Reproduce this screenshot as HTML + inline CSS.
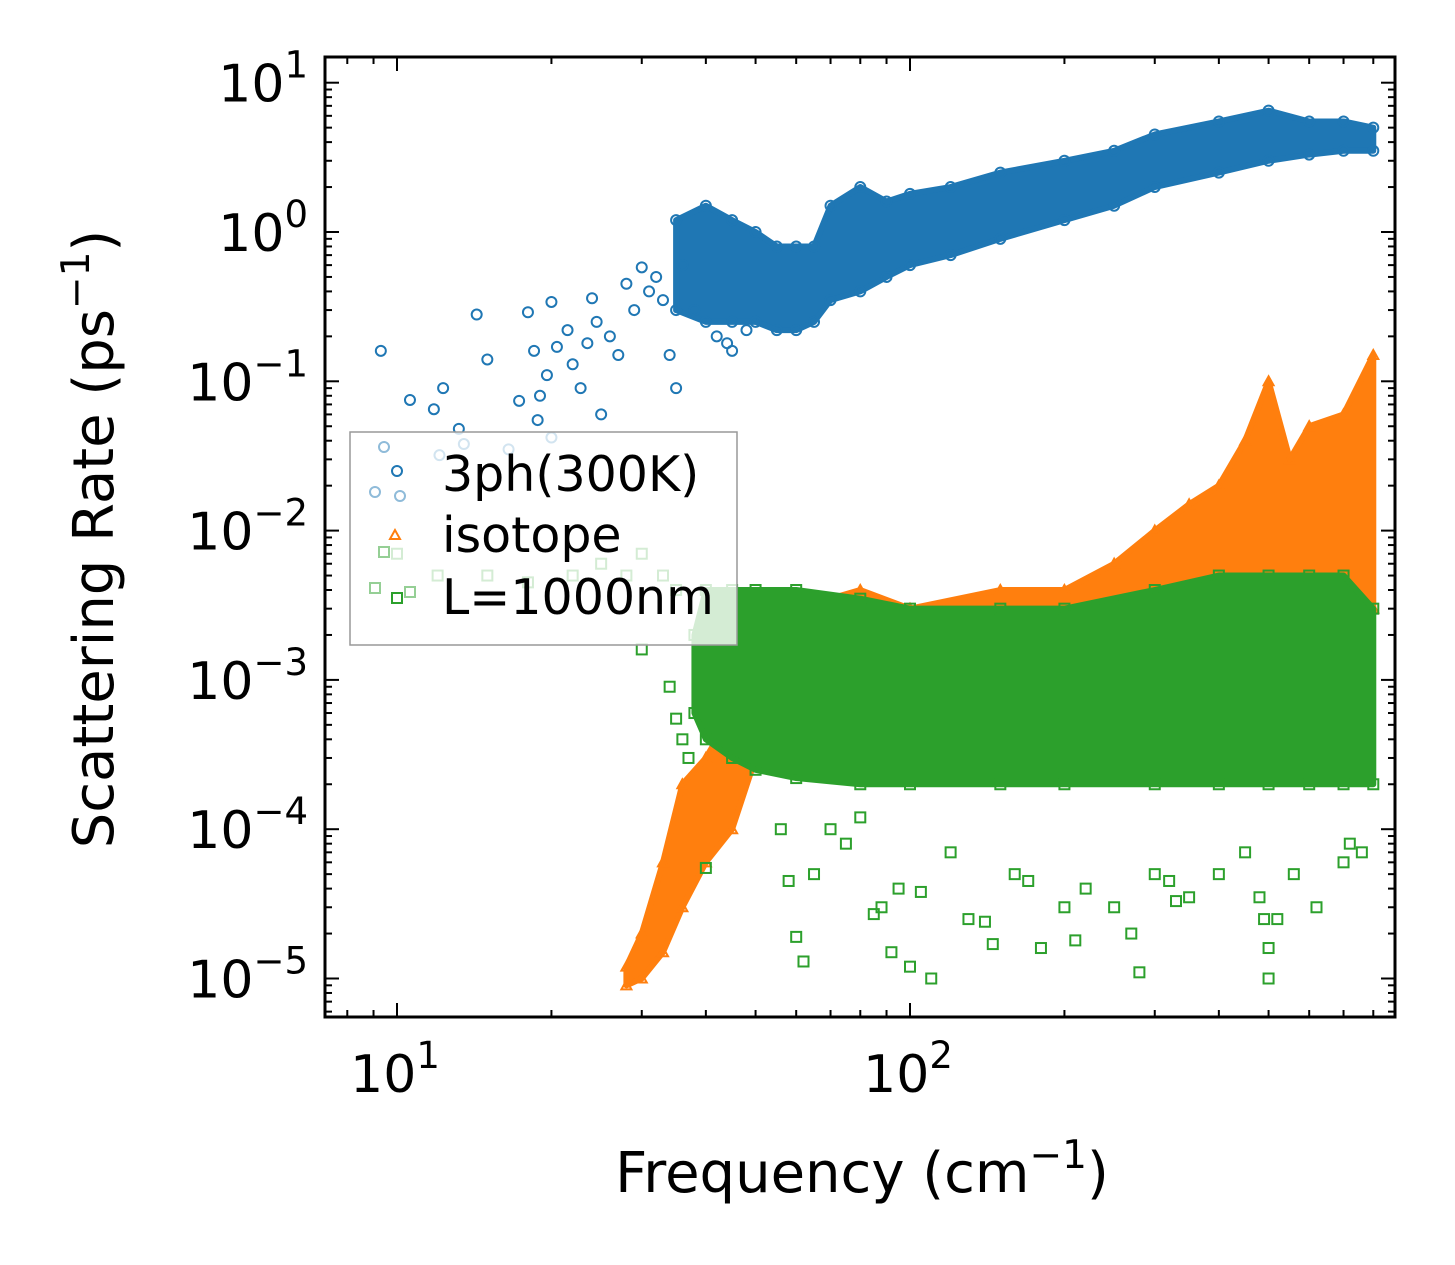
<!DOCTYPE html>
<html><head><meta charset="utf-8"><style>
html,body{margin:0;padding:0;background:#fff;}
svg{display:block;font-family:"DejaVu Sans","Liberation Sans",sans-serif;}
</style></head><body>
<svg id="chart" width="1455" height="1265" viewBox="0 0 1455 1265" xmlns="http://www.w3.org/2000/svg">
<defs><clipPath id="clip"><rect x="325" y="57" width="1070" height="960"/></clipPath></defs>
<rect x="0" y="0" width="1455" height="1265" fill="#fff"/>
<g id="plot" clip-path="url(#clip)"></g>
<g id="axes"></g>
<g id="legend"></g>
</svg>
<script>
// ---- data ----
const blueFreq = [35,40,45,50,55,60,65,70,80,90,100,120,150,200,250,300,400,500,600,700,800];
const blueUpper = [1.2,1.5,1.2,1.0,0.8,0.8,0.8,1.5,2.0,1.6,1.8,2.0,2.5,3.0,3.5,4.5,5.5,6.5,5.5,5.5,5];
const blueLower = [0.3,0.25,0.25,0.25,0.22,0.22,0.25,0.35,0.4,0.5,0.6,0.7,0.9,1.2,1.5,2.0,2.5,3.0,3.3,3.5,3.5];
const blueX = [9.3,10.6,11.8,12.3,13.2,14.3,15.0,17.3,18.0,18.5,19,19.6,20,20.5,21.5,22,22.8,23.5,24,24.5,25,26,27,28,29,30,31,32,33,34,35,36,38,42,44,45,48,20,18.8,16.5,13.5,12.1];
const blueY = [0.16,0.075,0.065,0.09,0.048,0.28,0.14,0.074,0.29,0.16,0.08,0.11,0.34,0.17,0.22,0.13,0.09,0.18,0.36,0.25,0.06,0.2,0.15,0.45,0.3,0.58,0.4,0.5,0.35,0.15,0.09,0.6,0.3,0.2,0.18,0.16,0.22,0.042,0.055,0.035,0.038,0.032];

const orangeFreq = [28,30,33,36,40,45,50,60,80,100,150,200,250,300,350,400,450,500,550,600,700,800];
const orangeUpper = [1.2e-5,2e-5,6e-5,2e-4,3e-4,6e-4,1.5e-3,3e-3,4e-3,3e-3,4e-3,4e-3,6e-3,1e-2,1.5e-2,2e-2,4e-2,0.1,0.03,0.05,0.06,0.15];
const orangeLower = [9e-6,1e-5,1.5e-5,3e-5,6e-5,1e-4,3e-4,5e-4,5e-4,5e-4,5e-4,5e-4,6e-4,8e-4,1e-3,1e-3,1.5e-3,2e-3,2e-3,2e-3,2e-3,3e-3];

const greenFreq = [38,40,45,50,60,80,100,150,200,300,400,500,600,700,800];
const greenUpper = [2e-3,4e-3,4e-3,4e-3,4e-3,3.5e-3,3e-3,3e-3,3e-3,4e-3,5e-3,5e-3,5e-3,5e-3,3e-3];
const greenLower = [6e-4,4e-4,3e-4,2.5e-4,2.2e-4,2e-4,2e-4,2e-4,2e-4,2e-4,2e-4,2e-4,2e-4,2e-4,2e-4];
const greenX = [40,56,58,60,62,65,70,75,80,85,88,92,95,100,105,110,120,130,140,145,160,170,180,200,210,220,250,270,280,300,320,330,350,400,450,480,490,500,500,520,560,620,700,720,760,30,34,35,36,37,22,25,28,30,33,35,18,15,12,10];
const greenY = [5.5e-5,1e-4,4.5e-5,1.9e-5,1.3e-5,5e-5,1e-4,8e-5,1.2e-4,2.7e-5,3e-5,1.5e-5,4e-5,1.2e-5,3.8e-5,1e-5,7e-5,2.5e-5,2.4e-5,1.7e-5,5e-5,4.5e-5,1.6e-5,3e-5,1.8e-5,4e-5,3e-5,2e-5,1.1e-5,5e-5,4.5e-5,3.3e-5,3.5e-5,5e-5,7e-5,3.5e-5,2.5e-5,1.6e-5,1e-5,2.5e-5,5e-5,3e-5,6e-5,8e-5,7e-5,1.6e-3,9e-4,5.5e-4,4e-4,3e-4,5e-3,6e-3,5e-3,7e-3,5e-3,4e-3,4.5e-3,5e-3,5e-3,7e-3];

const xTickVals = [10,100];
const xTickLabels = ["1", "2"];
const yTickExps = [1,0,-1,-2,-3,-4,-5];

// ---- scales ----
const X0=325,X1=1395,Y0=57,Y1=1017;
const xs = v => 397 + (Math.log10(v)-1)*513;
const ys = v => 232 - Math.log10(v)*149.3;
const NS="http://www.w3.org/2000/svg";
function mk(tag, attrs, parent){const e=document.createElementNS(NS,tag);for(const k in attrs)e.setAttribute(k,attrs[k]);parent.appendChild(e);return e;}
const plot=document.getElementById('plot'), axes=document.getElementById('axes'), leg=document.getElementById('legend');

function band(fr,up,lo,color,name){
  let pts=fr.map((f,i)=>xs(f)+','+ys(up[i]));
  for(let i=fr.length-1;i>=0;i--)pts.push(xs(fr[i])+','+ys(lo[i]));
  const p=mk('polygon',{points:pts.join(' '),fill:color,stroke:color,'stroke-width':6,'stroke-linejoin':'round'},plot);
  
  
}
function circle(x,y,c,parent,op){const e=mk('circle',{cx:x,cy:y,r:5,fill:'none',stroke:c,'stroke-width':2,opacity:op||1},parent);return e;}
function square(x,y,c,parent,op){return mk('rect',{x:x-5,y:y-5,width:10,height:10,fill:'none',stroke:c,'stroke-width':2,opacity:op||1},parent);}
function tri(x,y,c,parent){return mk('polygon',{points:`${x},${y-5} ${x-5},${y+4} ${x+5},${y+4}`,fill:'none',stroke:c,'stroke-width':2},parent);}

const BLUE='#1f77b4',ORANGE='#ff7f0e',GREEN='#2ca02c';
band(blueFreq,blueUpper,blueLower,BLUE,'series-3ph-band');
blueX.forEach((f,i)=>{const e=circle(xs(f),ys(blueY[i]),BLUE,plot);
  
  });
blueFreq.forEach((f,i)=>{circle(xs(f),ys(blueUpper[i]),BLUE,plot);circle(xs(f),ys(blueLower[i]),BLUE,plot);});
band(orangeFreq,orangeUpper,orangeLower,ORANGE,'series-isotope-band');
orangeFreq.forEach((f,i)=>{tri(xs(f),ys(orangeUpper[i]),ORANGE,plot);tri(xs(f),ys(orangeLower[i]),ORANGE,plot);});
band(greenFreq,greenUpper,greenLower,GREEN,'series-boundary-band');
greenX.forEach((f,i)=>{const e=square(xs(f),ys(greenY[i]),GREEN,plot);
  
  });
greenFreq.forEach((f,i)=>{square(xs(f),ys(greenUpper[i]),GREEN,plot);square(xs(f),ys(greenLower[i]),GREEN,plot);});

// ---- axes ----
mk('rect',{x:X0,y:Y0,width:X1-X0,height:Y1-Y0,fill:'none',stroke:'#000','stroke-width':3},axes);
for(let d=0;d<=2;d++){for(let m=1;m<=9;m++){const v=m*Math.pow(10,d);const x=xs(v);if(x<X0||x>X1)continue;
  const L=m===1?14:7;
  mk('line',{x1:x,y1:Y1,x2:x,y2:Y1-L,stroke:'#000','stroke-width':2},axes);
  mk('line',{x1:x,y1:Y0,x2:x,y2:Y0+L,stroke:'#000','stroke-width':2},axes);}}
for(let d=-6;d<=1;d++){for(let m=1;m<=9;m++){const v=m*Math.pow(10,d);const y=ys(v);if(y<Y0||y>Y1)continue;
  const L=m===1?14:7;
  mk('line',{x1:X0,y1:y,x2:X0+L,y2:y,stroke:'#000','stroke-width':2},axes);
  mk('line',{x1:X1,y1:y,x2:X1-L,y2:y,stroke:'#000','stroke-width':2},axes);}}
xTickVals.forEach((v,i)=>{const t=mk('text',{x:xs(v)-2,y:1092,'font-size':52,'text-anchor':'middle'},axes);
  
  
  t.innerHTML=`10<tspan dy="-24" font-size="37">${xTickLabels[i]}</tspan>`;});
yTickExps.forEach(e=>{const t=mk('text',{x:308,y:ys(Math.pow(10,e))+19,'font-size':52,'text-anchor':'end'},axes);
  
  
  const s=e<0?'\u2212'+(-e):''+e;
  t.innerHTML=`10<tspan dy="-24" font-size="37">${s}</tspan>`;});
const xl=mk('text',{x:862,y:1192,'font-size':56,'text-anchor':'middle'},axes);


xl.innerHTML='Frequency (cm<tspan dy="-24" font-size="39">\u22121</tspan><tspan dy="24">)</tspan>';
const yl=mk('text',{x:0,y:0,'font-size':56,'text-anchor':'middle',transform:'translate(113,539) rotate(-90)'},axes);


yl.innerHTML='Scattering Rate (ps<tspan dy="-24" font-size="39">\u22121</tspan><tspan dy="24">)</tspan>';

// ---- legend ----
const box=mk('rect',{x:350,y:432,width:387,height:213,fill:'#fff','fill-opacity':0.8,stroke:'#999','stroke-width':1.5},leg);


circle(384,447,BLUE,leg,0.5);circle(397,471,BLUE,leg);circle(375,492,BLUE,leg,0.5);circle(400,496,BLUE,leg,0.5);
tri(395,535,ORANGE,leg);
square(384,552,GREEN,leg,0.5);square(397,598,GREEN,leg);square(375,588,GREEN,leg,0.5);square(410,592,GREEN,leg,0.5);
[["3ph(300K)",491],["isotope",552],["L=1000nm",614]].forEach(([s,y])=>{const t=mk('text',{x:442,y:y,'font-size':49},leg);
  
  
  t.textContent=s;});
</script>
</body></html>
